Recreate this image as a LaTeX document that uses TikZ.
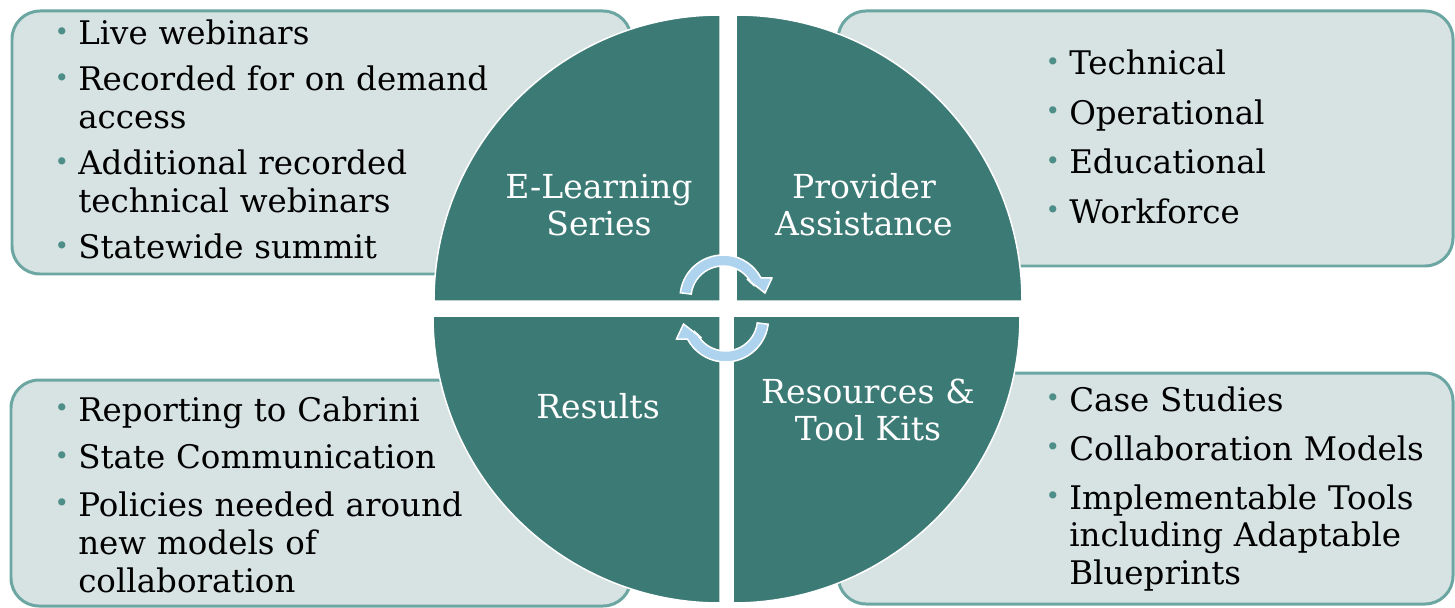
\documentclass[tikz,border=0pt]{standalone}
\usepackage{fontspec}
\setmainfont{DejaVu Serif}

\definecolor{quadteal}{HTML}{3C7A76}
\definecolor{boxfill}{HTML}{D7E3E2}
\definecolor{boxline}{HTML}{6BA6A3}
\definecolor{arrowblue}{HTML}{ADD3EF}
\definecolor{dotteal}{HTML}{4E8E89}

\newcommand{\itm}[1]{\hangindent=11.9pt\hangafter=1\noindent\makebox[11.9pt][l]{\hspace*{-1.5pt}\textcolor{dotteal}{\raisebox{2.5pt}{\fontsize{14}{14}\selectfont\textbullet}}}#1\par}

\begin{document}
\begin{tikzpicture}[x=0.02cm,y=-0.02cm]
        \tikzset{box/.style = {draw=boxline,fill=boxfill,line width=0.06cm,rounded corners=0.56cm}}
        \tikzset{quad/.style = {draw=white,fill=quadteal,line width=0.03cm}}
        \tikzset{circarrow/.style = {draw=white,fill=arrowblue,line width=0.03cm}}
        \tikzset{quadtext/.style = {text=white,text width=5cm,align=center,inner sep=0,anchor=base,font=\fontsize{18.8}{21.6}\selectfont}}
        \tikzset{itemlist/.style = {text=black,text width=9cm,align=left,inner sep=0,anchor=base west,font=\fontsize{18.5}{21.6}\selectfont,execute at begin node={\setlength{\parskip}{#1}}}}
        \useasboundingbox (0,0) rectangle (1455,608);

        \draw[box] (12,11) rectangle (631,274);
        \draw[box] (838,11) rectangle (1453,266);
        \draw[box] (11,380) rectangle (631,606);
        \draw[box] (838,373) rectangle (1453,604);

        \draw[quad] (720,301) -- (434,301) arc[start angle=180,end angle=270,radius=286] -- cycle;
        \draw[quad] (736,301) -- (736,15) arc[start angle=270,end angle=360,radius=286] -- cycle;
        \draw[quad] (720,316) -- (720,603) arc[start angle=90,end angle=180,radius=287] -- cycle;
        \draw[quad] (733,316) -- (1020,316) arc[start angle=0,end angle=90,radius=287] -- cycle;

        \begin{scope}[shift={(723,298)}]
          \draw[circarrow] (187:43) arc[start angle=187,end angle=332,radius=43] -- (49,-20) -- (42,-5) -- (24,-19) -- (332:32) arc[start angle=332,end angle=187,radius=32] -- cycle;
        \end{scope}
        \begin{scope}[shift={(725.5,319)},rotate=180]
          \draw[circarrow] (187:43) arc[start angle=187,end angle=332,radius=43] -- (49,-20) -- (42,-5) -- (24,-19) -- (332:32) arc[start angle=332,end angle=187,radius=32] -- cycle;
        \end{scope}

        \node[quadtext] (q1) at (599,198) {E-Learning\\Series};
        \node[quadtext] (q2) at (864,198) {Provider\\Assistance};
        \node[quadtext] (q3) at (598,418) {Results};
        \node[quadtext] (q4) at (868,403) {Resources \&\\Tool Kits};

        \node[itemlist=4.55pt] (l1) at (57,45) {\itm{Live webinars}
          \itm{Recorded for on demand\newline access}
          \itm{Additional recorded\newline technical webinars}
          \itm{Statewide summit}};
        \node[itemlist=6.5pt] (l2) at (1048,75) {\itm{Technical}
          \itm{Operational}
          \itm{Educational}
          \itm{Workforce}};
        \node[itemlist=5.5pt] (l3) at (57,421) {\itm{Reporting to Cabrini}
          \itm{State Communication}
          \itm{Policies needed around\newline new models of\newline collaboration}};
        \node[itemlist=6.3pt] (l4) at (1048,411) {\itm{Case Studies}
          \itm{Collaboration Models}
          \itm{Implementable Tools\newline including Adaptable\newline Blueprints}};
      \end{tikzpicture}
\end{document}
